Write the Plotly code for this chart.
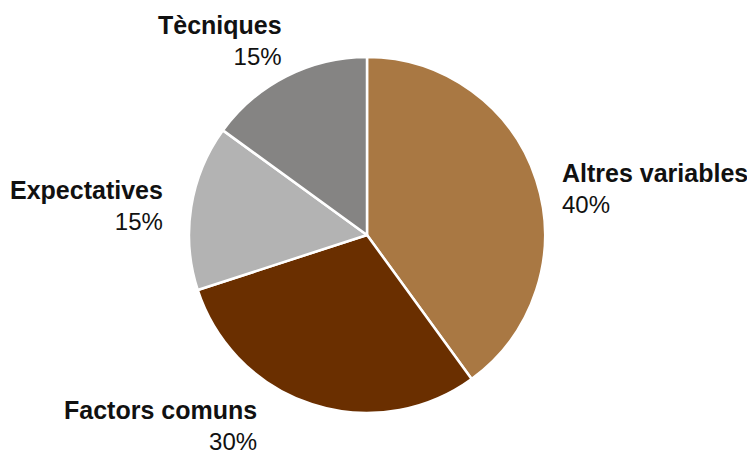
import math
import plotly.graph_objects as go

# Data
labels = ["Altres variables", "Factors comuns", "Expectatives", "Tècniques"]
values = [40, 30, 15, 15]
colors = ["#A97843", "#6A2F00", "#B3B3B3", "#858483"]

# Layout settings
W, H = 747, 450
cx, cy, r = 367, 235, 178          # pie centre / radius in pixels
label_r = 1.124                     # label radius as a fraction of r
label_xanchor = ["left", "right", "right", "right"]
label_align = ["left", "right", "right", "right"]
label_shift = [(3, -15), (-46, 0), (-4, -2), (8, 16)]   # pixel nudges
FONT = "Liberation Sans, Arial, Helvetica, sans-serif"
FS = 24
FS_BOLD = 25

fig = go.Figure(go.Pie(
    labels=labels,
    values=values,
    sort=False,
    direction="clockwise",
    rotation=0,
    marker=dict(colors=colors, line=dict(color="white", width=2.5)),
    textinfo="none",
    hoverinfo="label+percent",
    showlegend=False,
    domain=dict(x=[(cx - r) / W, (cx + r) / W],
                y=[1 - (cy + r) / H, 1 - (cy - r) / H]),
))

total = sum(values)
cum = 0
annotations = []
for i, (lab, v) in enumerate(zip(labels, values)):
    mid = (cum + v / 2) / total * 2 * math.pi
    cum += v
    px = cx + label_r * r * math.sin(mid)
    py = cy - label_r * r * math.cos(mid)
    pct = round(v / total * 100)
    annotations.append(dict(
        x=px / W, y=1 - py / H, xref="paper", yref="paper",
        text=f"<span style='font-size:{FS_BOLD}px'><b>{lab}</b></span><br>{pct}%",
        showarrow=False,
        xanchor=label_xanchor[i], yanchor="middle",
        align=label_align[i],
        xshift=label_shift[i][0], yshift=label_shift[i][1],
        font=dict(family=FONT, size=FS, color="#111111"),
    ))

fig.update_layout(
    width=W, height=H,
    margin=dict(l=0, r=0, t=0, b=0),
    paper_bgcolor="white",
    plot_bgcolor="white",
    annotations=annotations,
)

fig.write_html("out.html")
